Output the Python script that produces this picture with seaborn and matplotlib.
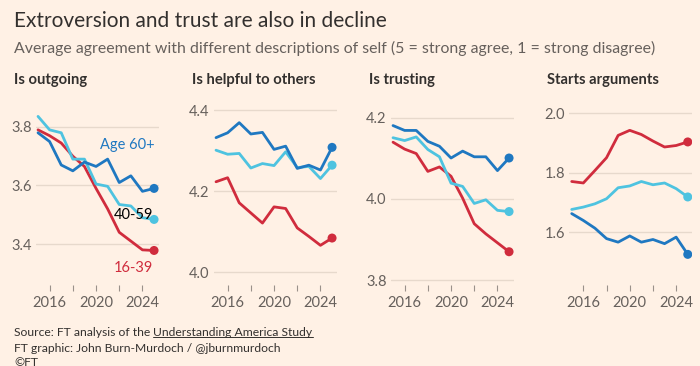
import numpy as np
import pandas as pd
import matplotlib
matplotlib.use("Agg")
import matplotlib.pyplot as plt
from matplotlib.lines import Line2D
import seaborn as sns

# data (annual, 2015-2025)
years = list(range(2015, 2026))
groups = ["16-39", "40-59", "Age 60+"]
panels = ["Is outgoing", "Is helpful to others", "Is trusting", "Starts arguments"]

outgoing_young = [3.79, 3.77, 3.745, 3.70, 3.665, 3.59, 3.52, 3.44, 3.41, 3.38, 3.378]
outgoing_mid = [3.836, 3.79, 3.78, 3.69, 3.69, 3.605, 3.597, 3.535, 3.53, 3.49, 3.484]
outgoing_old = [3.78, 3.75, 3.67, 3.65, 3.68, 3.665, 3.69, 3.61, 3.633, 3.58, 3.59]

helpful_young = [4.223, 4.233, 4.171, 4.146, 4.121, 4.161, 4.157, 4.109, 4.088, 4.066, 4.084]
helpful_mid = [4.301, 4.291, 4.293, 4.257, 4.268, 4.263, 4.297, 4.258, 4.261, 4.231, 4.264]
helpful_old = [4.332, 4.344, 4.369, 4.341, 4.345, 4.303, 4.311, 4.256, 4.264, 4.252, 4.308]

trusting_young = [4.14, 4.123, 4.112, 4.068, 4.079, 4.056, 4.002, 3.939, 3.914, 3.892, 3.87]
trusting_mid = [4.151, 4.144, 4.153, 4.122, 4.104, 4.039, 4.031, 3.989, 3.998, 3.972, 3.969]
trusting_old = [4.181, 4.169, 4.169, 4.142, 4.13, 4.101, 4.118, 4.104, 4.104, 4.07, 4.101]

argues_young = [1.770, 1.765, 1.807, 1.85, 1.925, 1.942, 1.928, 1.906, 1.886, 1.891, 1.903]
argues_mid = [1.676, 1.684, 1.695, 1.712, 1.749, 1.755, 1.77, 1.759, 1.765, 1.746, 1.718]
argues_old = [1.662, 1.639, 1.613, 1.578, 1.566, 1.587, 1.566, 1.575, 1.561, 1.583, 1.525]

y_ticks = [[3.4, 3.6, 3.8], [4.0, 4.2, 4.4], [3.8, 4.0, 4.2], [1.6, 1.8, 2.0]]
x_ticks = [2016, 2018, 2020, 2022, 2024]
x_labels = ["2016", "", "2020", "", "2024"]

series = {
    "Is outgoing": [outgoing_young, outgoing_mid, outgoing_old],
    "Is helpful to others": [helpful_young, helpful_mid, helpful_old],
    "Is trusting": [trusting_young, trusting_mid, trusting_old],
    "Starts arguments": [argues_young, argues_mid, argues_old],
}

rows = []
for p in panels:
    for g, vals in zip(groups, series[p]):
        for yr, v in zip(years, vals):
            rows.append({"panel": p, "group": g, "year": yr, "value": v})
df = pd.DataFrame(rows)

bg = "#fff1e5"
palette = {"16-39": "#d02c3d", "40-59": "#4ec3e0", "Age 60+": "#1f78c1"}
ylims = [(3.26, 3.892), (3.968, 4.425), (3.788, 4.244), (1.422, 2.044)]
lefts = [35.7, 213.7, 390.7, 569.4]

sns.set_style("white")
plt.rcParams["font.family"] = ["Lato", "DejaVu Sans"]

W, H = 700, 366
fig = plt.figure(figsize=(7, 3.66), dpi=100, facecolor=bg)

for i, p in enumerate(panels):
    ax = fig.add_axes([lefts[i] / W, (H - 285) / H, 123 / W, 185 / H])
    ax.set_facecolor(bg)
    sub = df[df.panel == p]
    sns.lineplot(data=sub, x="year", y="value", hue="group", hue_order=groups,
                 palette=palette, linewidth=2.0, legend=False, ax=ax, zorder=3)
    last = sub[sub.year == years[-1]]
    sns.scatterplot(data=last, x="year", y="value", hue="group", hue_order=groups,
                    palette=palette, s=42, linewidth=0, legend=False, ax=ax, zorder=4)
    ax.set_xlim(2014.8, 2025.4)
    ax.set_ylim(*ylims[i])
    ax.set_yticks(y_ticks[i])
    ax.set_yticklabels([f"{t:.1f}" for t in y_ticks[i]])
    ax.set_xticks(x_ticks)
    ax.set_xticklabels(x_labels)
    ax.grid(axis="y", color="#e7d9cc", linewidth=1)
    ax.set_axisbelow(True)
    for s in ax.spines.values():
        s.set_visible(False)
    ax.tick_params(axis="y", length=0, pad=3, labelsize=10.5, labelcolor="#66605c")
    ax.tick_params(axis="x", length=4, width=0.8, color="#9a918a", pad=4,
                   labelsize=10.5, labelcolor="#66605c", direction="out", bottom=True)
    ax.set_xlabel("")
    ax.set_ylabel("")
    fig.text((lefts[i] - 22) / W, 1 - 80 / H, p, fontsize=10.6, fontweight="bold",
             color="#33302e", va="center", ha="left")
    if i == 0:
        ax.text(2020.3, 3.738, "Age 60+", color=palette["Age 60+"], fontsize=10.5,
                ha="left", va="center")
        ax.text(2021.5, 3.499, "40-59", color="black", fontsize=10.5,
                ha="left", va="center")
        ax.text(2021.5, 3.318, "16-39", color=palette["16-39"], fontsize=10.5,
                ha="left", va="center")

fig.text(14 / W, 1 - 21 / H, "Extroversion and trust are also in decline",
         fontsize=15, color="#33302e", va="center", ha="left")
fig.text(14 / W, 1 - 48 / H,
         "Average agreement with different descriptions of self (5 = strong agree, 1 = strong disagree)",
         fontsize=11.4, color="#66605c", va="center", ha="left")

t1 = fig.text(14 / W, 1 - 332 / H, "Source: FT analysis of the ", fontsize=8.7,
              color="#33302e", va="center", ha="left")
fig.canvas.draw()
r = fig.canvas.get_renderer()
bb = t1.get_window_extent(r)
t2 = fig.text(bb.x1 / W, 1 - 332 / H, "Understanding America Study", fontsize=8.7,
              color="#33302e", va="center", ha="left")
bb2 = t2.get_window_extent(r)
fig.add_artist(Line2D([bb2.x0 / W, bb2.x1 / W], [(bb2.y0 + 0.5) / H] * 2,
                      color="#33302e", linewidth=0.7, transform=fig.transFigure))
fig.text(14 / W, 1 - 348 / H, "FT graphic: John Burn-Murdoch / @jburnmurdoch",
         fontsize=8.7, color="#33302e", va="center", ha="left")
fig.text(14 / W, 1 - 363 / H, "©FT", fontsize=8.7, color="#33302e", va="center", ha="left")

fig.savefig("out.png", dpi=100, facecolor=bg)
